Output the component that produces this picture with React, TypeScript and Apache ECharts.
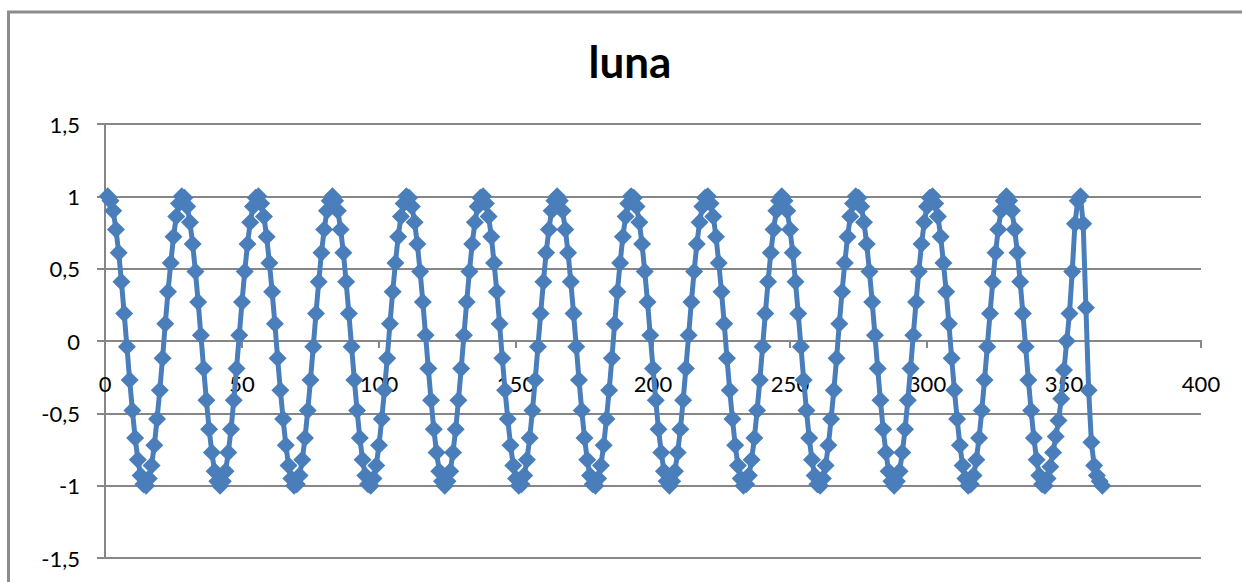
import { useEffect, useRef } from "react";
import * as echarts from "echarts";

const titleText = "luna";
const xTickMin = 0;
const xTickMax = 400;
const xTickStep = 50;
const yTickMin = -1.5;
const yTickMax = 1.5;
const yTickStep = 0.5;

// values, one per day (day 1 ... day 364)
const days1to82 = [
  1, 0.97, 0.9, 0.77, 0.61, 0.41, 0.19, -0.04, -0.27, -0.48, -0.67, -0.82, -0.93, -0.99,
  -1, -0.95, -0.86, -0.72, -0.54, -0.34, -0.12, 0.12, 0.34, 0.54, 0.72, 0.86, 0.95, 1,
  0.99, 0.93, 0.82, 0.67, 0.48, 0.27, 0.04, -0.19, -0.41, -0.61, -0.77, -0.9, -0.97, -1,
  -0.97, -0.9, -0.77, -0.61, -0.41, -0.19, 0.04, 0.27, 0.48, 0.67, 0.82, 0.93, 0.99, 1,
  0.95, 0.86, 0.72, 0.54, 0.34, 0.12, -0.12, -0.34, -0.54, -0.72, -0.86, -0.95, -1, -0.99,
  -0.93, -0.82, -0.67, -0.48, -0.27, -0.04, 0.19, 0.41, 0.61, 0.77, 0.9, 0.97,
];
const days83to164 = [
  1, 0.97, 0.9, 0.77, 0.61, 0.41, 0.19, -0.04, -0.27, -0.48, -0.67, -0.82, -0.93, -0.99,
  -1, -0.95, -0.86, -0.72, -0.54, -0.34, -0.12, 0.12, 0.34, 0.54, 0.72, 0.86, 0.95, 1,
  0.99, 0.93, 0.82, 0.67, 0.48, 0.27, 0.04, -0.19, -0.41, -0.61, -0.77, -0.9, -0.97, -1,
  -0.97, -0.9, -0.77, -0.61, -0.41, -0.19, 0.04, 0.27, 0.48, 0.67, 0.82, 0.93, 0.99, 1,
  0.95, 0.86, 0.72, 0.54, 0.34, 0.12, -0.12, -0.34, -0.54, -0.72, -0.86, -0.95, -1, -0.99,
  -0.93, -0.82, -0.67, -0.48, -0.27, -0.04, 0.19, 0.41, 0.61, 0.77, 0.9, 0.97,
];
const days165to246 = [
  1, 0.97, 0.9, 0.77, 0.61, 0.41, 0.19, -0.04, -0.27, -0.48, -0.67, -0.82, -0.93, -0.99,
  -1, -0.95, -0.86, -0.72, -0.54, -0.34, -0.12, 0.12, 0.34, 0.54, 0.72, 0.86, 0.95, 1,
  0.99, 0.93, 0.82, 0.67, 0.48, 0.27, 0.04, -0.19, -0.41, -0.61, -0.77, -0.9, -0.97, -1,
  -0.97, -0.9, -0.77, -0.61, -0.41, -0.19, 0.04, 0.27, 0.48, 0.67, 0.82, 0.93, 0.99, 1,
  0.95, 0.86, 0.72, 0.54, 0.34, 0.12, -0.12, -0.34, -0.54, -0.72, -0.86, -0.95, -1, -0.99,
  -0.93, -0.82, -0.67, -0.48, -0.27, -0.04, 0.19, 0.41, 0.61, 0.77, 0.9, 0.97,
];
const days247to328 = [
  1, 0.97, 0.9, 0.77, 0.61, 0.41, 0.19, -0.04, -0.27, -0.48, -0.67, -0.82, -0.93, -0.99,
  -1, -0.95, -0.86, -0.72, -0.54, -0.34, -0.12, 0.12, 0.34, 0.54, 0.72, 0.86, 0.95, 1,
  0.99, 0.93, 0.82, 0.67, 0.48, 0.27, 0.04, -0.19, -0.41, -0.61, -0.77, -0.9, -0.97, -1,
  -0.97, -0.9, -0.77, -0.61, -0.41, -0.19, 0.04, 0.27, 0.48, 0.67, 0.82, 0.93, 0.99, 1,
  0.95, 0.86, 0.72, 0.54, 0.34, 0.12, -0.12, -0.34, -0.54, -0.72, -0.86, -0.95, -1, -0.99,
  -0.93, -0.82, -0.67, -0.48, -0.27, -0.04, 0.19, 0.41, 0.61, 0.77, 0.9, 0.97,
];
const days329to364 = [
  1, 0.97, 0.9, 0.77, 0.61, 0.41, 0.19, -0.04, -0.27, -0.48, -0.67, -0.82, -0.93, -0.99,
  -1, -0.95, -0.87, -0.77, -0.66, -0.55, -0.4, -0.2, 0, 0.19, 0.48, 0.81, 0.97, 1,
  0.81, 0.23, -0.34, -0.7, -0.86, -0.93, -0.97, -1,
];

const lunaValues = [
  ...days1to82,
  ...days83to164,
  ...days165to246,
  ...days247to328,
  ...days329to364,
];

const FONT = "Lato, 'Liberation Sans', sans-serif";
const GRID_COLOR = "#868686";
const SERIES_COLOR = "#4a7ebb";
const GRID_TOP = 124;
const GRID_BOTTOM = 24;
const CHART_H = 582;

export default function App() {
  const ref = useRef<HTMLDivElement>(null);

  useEffect(() => {
    document.body.style.margin = "0";
    const chart = echarts.init(ref.current!, null, { renderer: "svg" });
    const data = lunaValues.map((v, i) => [i + 1, v]);
    // the x axis crosses the y axis at 0: shift it up from the grid bottom
    const plotH = CHART_H - GRID_TOP - GRID_BOTTOM;
    const zeroShift = (plotH * (0 - yTickMin)) / (yTickMax - yTickMin);
    chart.setOption({
      animation: false,
      backgroundColor: "#ffffff",
      grid: {
        left: 105,
        right: 41,
        top: GRID_TOP,
        bottom: GRID_BOTTOM,
        containLabel: false,
        outerBoundsMode: "none",
      },
      graphic: [
        {
          type: "rect",
          shape: { x: 8.5, y: 12, width: 1400, height: 800 },
          style: { fill: "none", stroke: "#8c8c8c", lineWidth: 3 },
          silent: true,
        },
        {
          type: "text",
          x: 630,
          y: 61,
          style: {
            text: titleText,
            font: `bold 44px ${FONT}`,
            fill: "#000000",
            align: "center",
            verticalAlign: "middle",
          },
        },
      ],
      xAxis: {
        type: "value",
        position: "bottom",
        offset: -zeroShift,
        min: xTickMin,
        max: xTickMax,
        interval: xTickStep,
        axisLine: { show: true, onZero: false, lineStyle: { color: GRID_COLOR, width: 2 } },
        axisTick: { show: true, length: 7, lineStyle: { color: GRID_COLOR, width: 2 } },
        splitLine: { show: false },
        axisLabel: {
          color: "#000000",
          fontSize: 22,
          fontFamily: FONT,
          margin: 31,
        },
      },
      yAxis: {
        type: "value",
        min: yTickMin,
        max: yTickMax,
        interval: yTickStep,
        axisLine: { show: true, lineStyle: { color: GRID_COLOR, width: 2 } },
        axisTick: { show: true, length: 8, lineStyle: { color: GRID_COLOR, width: 2 } },
        splitLine: { show: true, lineStyle: { color: GRID_COLOR, width: 2 } },
        axisLabel: {
          color: "#000000",
          fontSize: 22,
          fontFamily: FONT,
          margin: 25,
          formatter: (v: number) => String(v).replace(".", ","),
        },
      },
      series: [
        {
          name: titleText,
          type: "line",
          data,
          symbol: "diamond",
          symbolSize: 18,
          showAllSymbol: true,
          lineStyle: { color: SERIES_COLOR, width: 5 },
          itemStyle: { color: SERIES_COLOR },
          z: 3,
        },
      ],
    });
    return () => chart.dispose();
  }, []);

  return <div ref={ref} style={{ width: 1242, height: CHART_H }} />;
}
